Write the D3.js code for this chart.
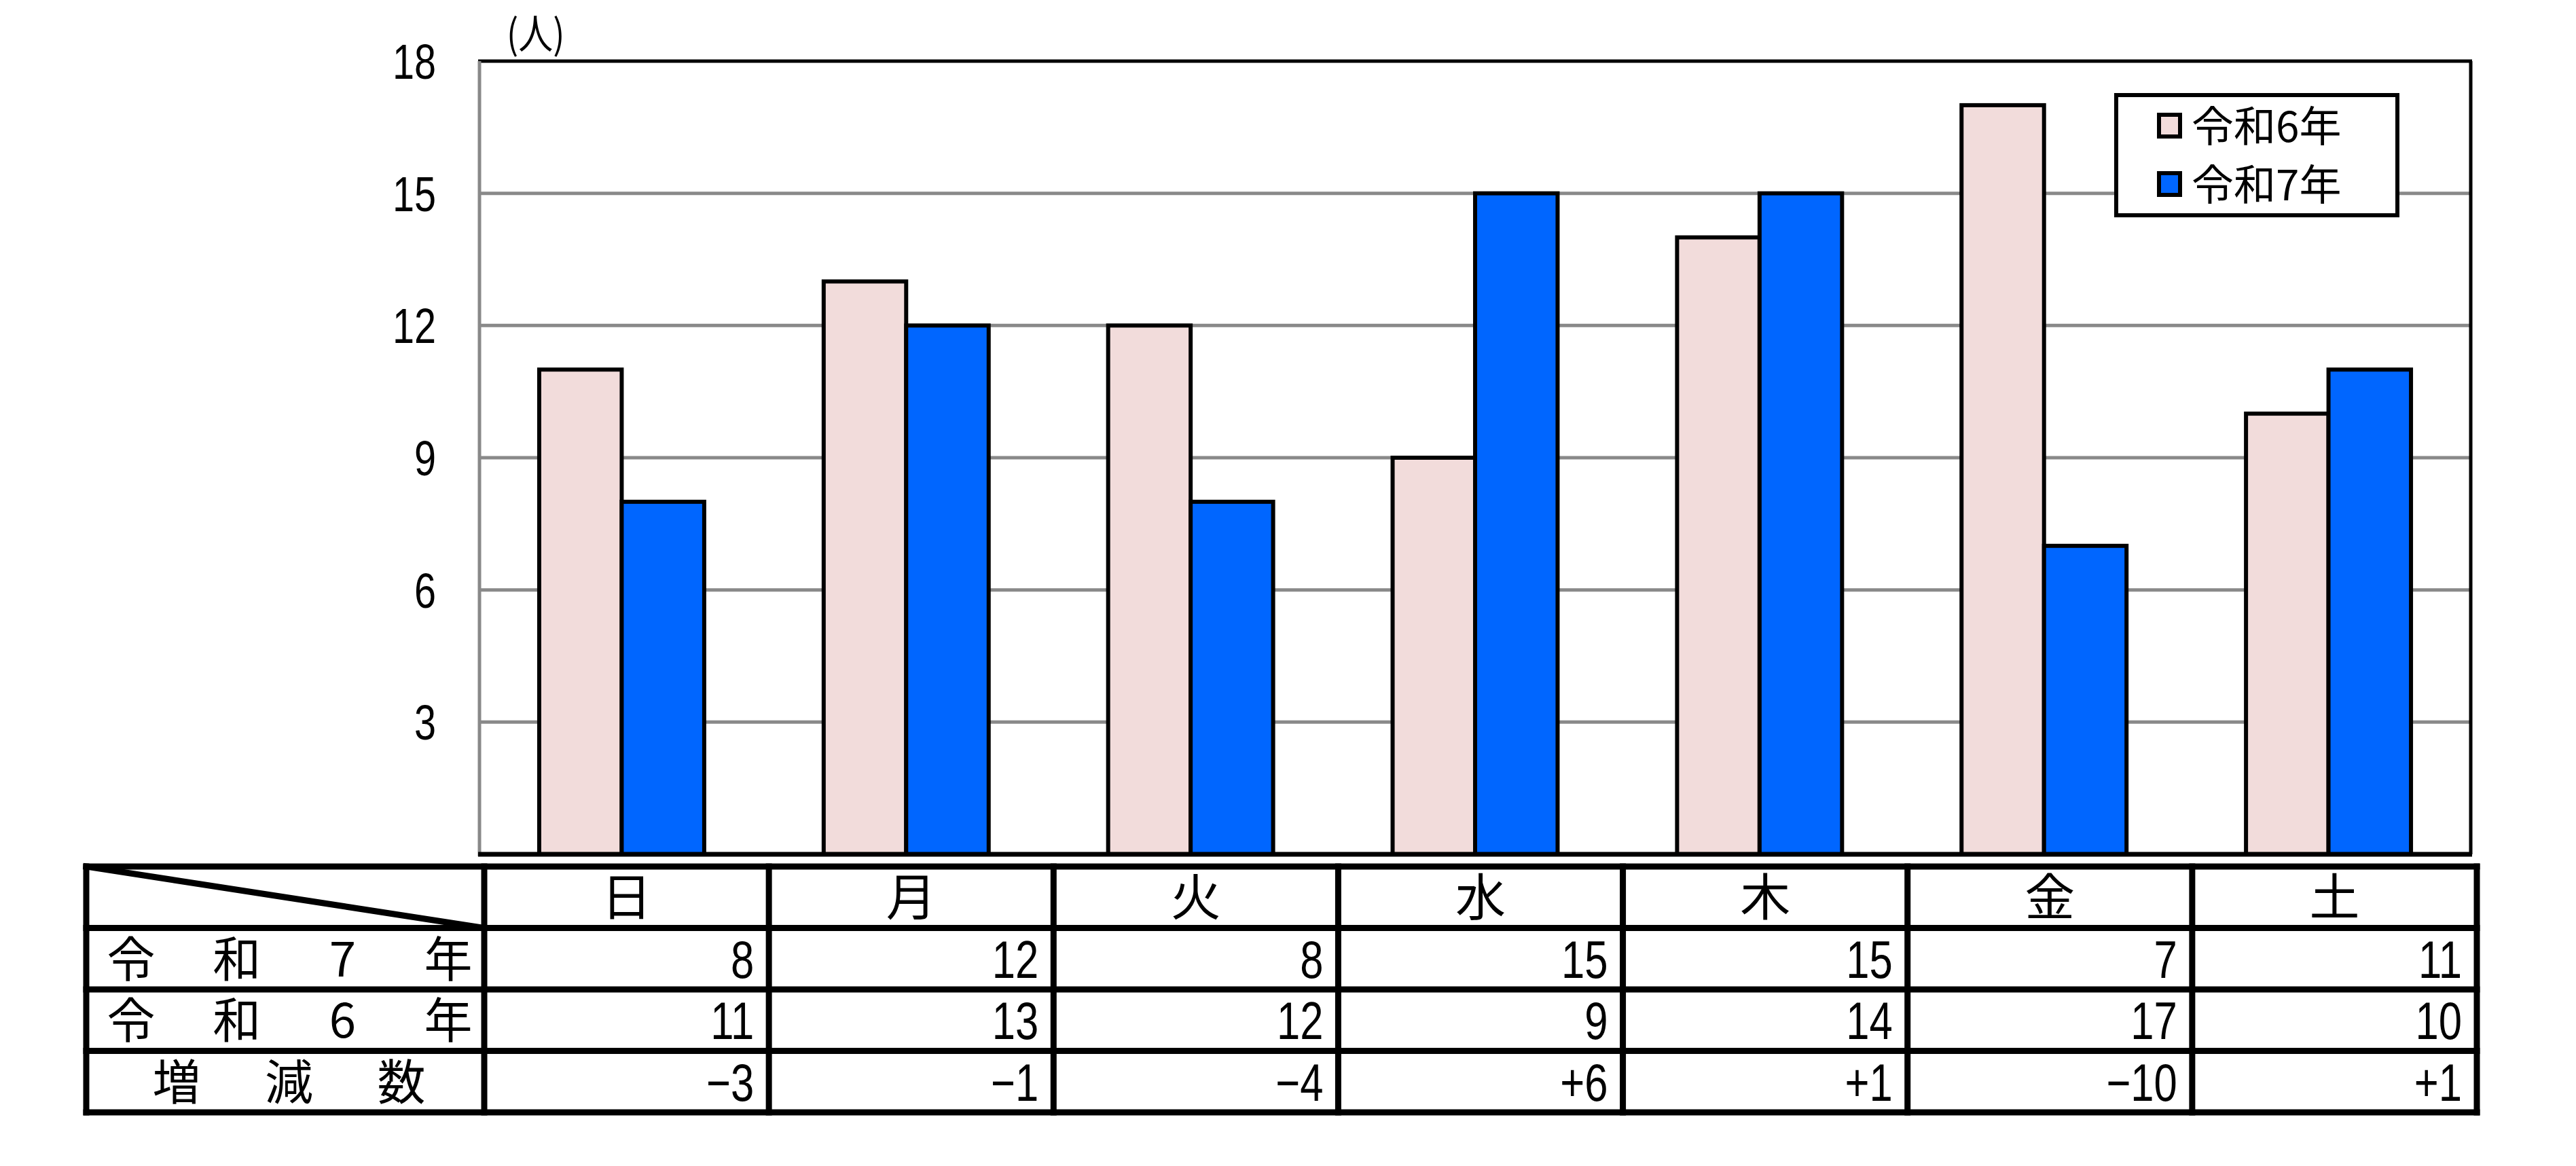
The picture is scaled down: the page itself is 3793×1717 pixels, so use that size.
<!DOCTYPE html>
<html>
<head>
<meta charset="utf-8">
<script src="https://cdn.jsdelivr.net/npm/d3@7"></script>
<style>
    body { margin: 0; background: #fff; }
    text { fill: #000; }
    .num { font-family: "Liberation Sans", Arial, sans-serif; }
    .jp { font-family: "Noto Sans CJK JP", sans-serif; }
</style>
</head>
<body>
<script>
// data
var days = ["日", "月", "火", "水", "木", "金", "土"];
var seriesNames = ["令和6年", "令和7年"];
var r6 = [11, 13, 12, 9, 14, 17, 10];
var r7 = [8, 12, 8, 15, 15, 7, 11];
var yTicks = [3, 6, 9, 12, 15, 18];
var rowLabels = [["令", "和", "7", "年"], ["令", "和", "6", "年"], ["増", "減", "数"]];

var W = 3793, H = 1717;
var colors = {"令和6年": "#f2dcdb", "令和7年": "#0066ff"};
var narrow = 0.8;   // digits in the reference are condensed

var svg = d3.select("body").append("svg")
    .attr("width", W)
    .attr("height", H)
    .attr("class", "chart");

// scales
var x = d3.scaleBand().domain(days).range([706, 3638]);
var x1 = d3.scaleBand().domain(seriesNames)
    .range([x.bandwidth() * 0.21, x.bandwidth() * 0.79]);
var y = d3.scaleLinear().domain([0, 18]).range([1258, 90]);

// gridlines
svg.append("g").attr("class", "grid")
    .selectAll("line")
    .data(yTicks.slice(0, -1))
    .enter().append("line")
    .attr("x1", 706).attr("x2", 3638)
    .attr("y1", function(d){ return y(d); })
    .attr("y2", function(d){ return y(d); })
    .style("stroke", "#898989")
    .style("stroke-width", 5);

// plot frame: top/right black, left gray
svg.append("line").attr("x1", 704).attr("x2", 3640).attr("y1", y(18)).attr("y2", y(18))
    .style("stroke", "#000").style("stroke-width", 5);
svg.append("line").attr("x1", 3638).attr("x2", 3638).attr("y1", y(18)).attr("y2", y(0))
    .style("stroke", "#000").style("stroke-width", 5);
svg.append("line").attr("x1", 706).attr("x2", 706).attr("y1", y(18)).attr("y2", y(0) + 3)
    .style("stroke", "#898989").style("stroke-width", 5);

// bars
var groups = svg.selectAll(".day")
    .data(days)
    .enter().append("g")
    .attr("class", "day")
    .attr("transform", function(d){ return "translate(" + x(d) + ",0)"; });

groups.selectAll("rect")
    .data(function(d, i){ return [{s: "令和6年", v: r6[i]}, {s: "令和7年", v: r7[i]}]; })
    .enter().append("rect")
    .attr("x", function(d){ return x1(d.s); })
    .attr("width", x1.bandwidth())
    .attr("y", function(d){ return y(d.v); })
    .attr("height", function(d){ return y(0) - y(d.v); })
    .style("fill", function(d){ return colors[d.s]; })
    .style("stroke", "#000")
    .style("stroke-width", 6);

// bottom axis line
svg.append("line").attr("x1", 704).attr("x2", 3640).attr("y1", y(0)).attr("y2", y(0))
    .style("stroke", "#000").style("stroke-width", 7);

// y tick labels (condensed)
svg.selectAll(".ylab")
    .data(yTicks)
    .enter().append("text")
    .attr("class", "ylab num")
    .attr("transform", function(d){ return "translate(642," + (y(d) + 26) + ") scale(" + narrow + ",1)"; })
    .attr("text-anchor", "end")
    .style("font-size", "72px")
    .text(function(d){ return d; });

svg.append("text")
    .attr("class", "jp")
    .attr("transform", "translate(746,72) scale(0.85,1)")
    .style("font-size", "60px")
    .text("(人)");

// legend
var legend = svg.append("g").attr("class", "legend");
legend.append("rect")
    .attr("x", 3116).attr("y", 140).attr("width", 414).attr("height", 177)
    .style("fill", "#fff").style("stroke", "#000").style("stroke-width", 6);
var legendItems = legend.selectAll(".item")
    .data(seriesNames)
    .enter().append("g")
    .attr("class", "item")
    .attr("transform", function(d, i){ return "translate(3177," + (185 + i * 86) + ")"; });
legendItems.append("rect")
    .attr("x", 2).attr("y", -16).attr("width", 31).attr("height", 32)
    .style("fill", function(d){ return colors[d]; })
    .style("stroke", "#000").style("stroke-width", 6);
legendItems.append("text")
    .attr("class", "jp")
    .attr("x", 50).attr("y", 24)
    .style("font-size", "62px")
    .text(function(d){ return d; });

// table
var tx = d3.scaleBand().domain(days).range([713, 3647]);
var rowY = d3.scaleBand().domain([0, 1, 2, 3]).range([1276, 1638]);
var table = svg.append("g").attr("class", "table");
var tableLines = [];
rowY.domain().forEach(function(r){ tableLines.push([127, rowY(r), 3647, rowY(r)]); });
tableLines.push([127, 1638, 3647, 1638]);
tableLines.push([127, 1276, 127, 1638]);
days.forEach(function(d){ tableLines.push([tx(d), 1276, tx(d), 1638]); });
tableLines.push([3647, 1276, 3647, 1638]);
tableLines.push([127, 1276, 713, rowY(1)]);
table.selectAll("line")
    .data(tableLines)
    .enter().append("line")
    .attr("x1", function(d){ return d[0]; }).attr("y1", function(d){ return d[1]; })
    .attr("x2", function(d){ return d[2]; }).attr("y2", function(d){ return d[3]; })
    .style("stroke", "#000")
    .style("stroke-width", 9)
    .style("stroke-linecap", "square");

// header
table.selectAll(".head")
    .data(days)
    .enter().append("text")
    .attr("class", "head jp")
    .attr("x", function(d){ return tx(d) + tx.bandwidth() / 2; })
    .attr("y", rowY(0) + rowY.bandwidth() / 2 + 27)
    .attr("text-anchor", "middle")
    .style("font-size", "74px")
    .text(function(d){ return d; });

// values
var diff = r7.map(function(v, i){ return v - r6[i]; });
var fmtDiff = function(v){ return v > 0 ? "+" + v : "\u2212" + Math.abs(v); };
var rows = [r7.map(String), r6.map(String), diff.map(fmtDiff)];
rows.forEach(function(vals, r){
    table.selectAll(".val" + r)
        .data(vals)
        .enter().append("text")
        .attr("class", "num")
        .attr("transform", function(d, i){
            var tx0 = tx(days[i]) + tx.bandwidth() - 22;
            var ty0 = rowY(r + 1) + rowY.bandwidth() / 2 + 28;
            return "translate(" + tx0 + "," + ty0 + ") scale(" + narrow + ",1)";
        })
        .attr("text-anchor", "end")
        .style("font-size", "77px")
        .text(function(d){ return d; });
});

// row labels, spread across the first column
var labelRanges = [[193, 660], [193, 660], [260, 591]];
rowLabels.forEach(function(chars, r){
    var px = d3.scalePoint().domain(d3.range(chars.length)).range(labelRanges[r]);
    table.selectAll(".lab" + r)
        .data(chars)
        .enter().append("text")
        .attr("class", "jp")
        .attr("x", function(d, i){ return px(i); })
        .attr("y", rowY(r + 1) + rowY.bandwidth() / 2 + 26)
        .attr("text-anchor", "middle")
        .style("font-size", "71px")
        .text(function(d){ return d; });
});
</script>
</body>
</html>
